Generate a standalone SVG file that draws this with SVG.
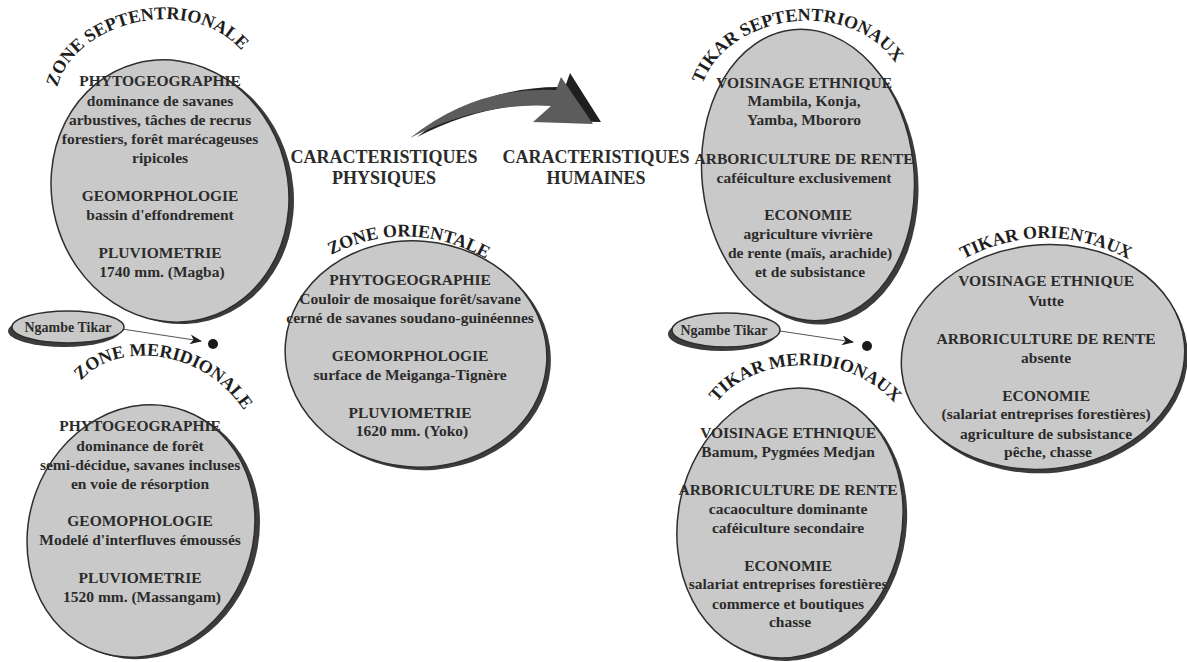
<svg xmlns="http://www.w3.org/2000/svg" width="1187" height="662" viewBox="0 0 1187 662">
<style>
.bg{fill:#c9c9c9;stroke:#2e2e2e;stroke-width:1.5}
.sh{fill:#3c3c3c}
.t{font-family:"Liberation Serif","Times New Roman",serif;font-weight:bold;font-size:15.5px;fill:#2b2b2b;text-anchor:middle}
.ti{font-family:"Liberation Serif","Times New Roman",serif;font-weight:bold;font-size:18px;fill:#1e1e1e;text-anchor:middle}
.cap{font-family:"Liberation Serif","Times New Roman",serif;font-weight:bold;font-size:18px;fill:#2b2b2b;text-anchor:middle}
.ng{font-family:"Liberation Serif","Times New Roman",serif;font-weight:bold;font-size:14px;fill:#2b2b2b;text-anchor:middle}
.ln{fill:none;stroke:#555;stroke-width:1}
</style>
<defs>
<marker id="ah" viewBox="0 0 12 10" refX="11" refY="5" markerWidth="12" markerHeight="10" markerUnits="userSpaceOnUse" orient="auto">
<path d="M0,0 L12,5 L0,10 L3.5,5 Z" fill="#1e1e1e"/>
</marker>
<path id="pA" d="M56,94 C66,22 195,-12 246,56"/>
<path id="pB" d="M80,382 C110,343 200,343 245,412"/>
<path id="pC" d="M325,258 Q408,213 492,262"/>
<path id="pD" d="M700,92 C720,12 855,-8 900,70"/>
<path id="pE" d="M958,262 Q1045,214 1134,262"/>
<path id="pF" d="M712,410 C740,358 850,343 900,410"/>
</defs>
<rect width="1187" height="662" fill="#ffffff"/>

<g id="connectors">
<path d="M417,137 Q482,85 565,87 L570,73 L601,122 L541,121 L559,104 Q487,101 417,137 Z" fill="#1f1f1f"/>
<path d="M410,138 Q475,86 556,90 L561,77 L593,124 L533,122 L551,106 Q480,102 410,138 Z" fill="#5c5c5c"/>
<line class="ln" x1="122" y1="329" x2="201" y2="341" marker-end="url(#ah)"/>
<circle cx="213" cy="344" r="5" fill="#1a1a1a"/>
<line class="ln" x1="780" y1="331" x2="853" y2="342" marker-end="url(#ah)"/>
<circle cx="867" cy="346" r="5" fill="#1a1a1a"/>
</g>

<g id="labels">
<text class="cap"><tspan x="384" y="163">CARACTERISTIQUES</tspan><tspan x="384" y="184">PHYSIQUES</tspan></text>
<text class="cap"><tspan x="596" y="163">CARACTERISTIQUES</tspan><tspan x="596" y="184">HUMAINES</tspan></text>
</g>

<g id="zone-septentrionale">
<ellipse class="sh" cx="175" cy="193" rx="118" ry="132" transform="rotate(-15 175 193)"/>
<ellipse class="bg" cx="170" cy="191" rx="118" ry="132" transform="rotate(-15 170 191)"/>
<text class="ti"><textPath href="#pA" startOffset="50%">ZONE SEPTENTRIONALE</textPath></text>
<text class="t">
<tspan x="162" y="86">PHYTOGEOGRAPHIE</tspan>
<tspan x="162" y="106">dominance de savanes</tspan>
<tspan x="162" y="125">arbustives, tâches de recrus</tspan>
<tspan x="162" y="144">forestiers, forêt marécageuses</tspan>
<tspan x="162" y="163">ripicoles</tspan>
<tspan x="162" y="201">GEOMORPHOLOGIE</tspan>
<tspan x="162" y="220">bassin d'effondrement</tspan>
<tspan x="162" y="258">PLUVIOMETRIE</tspan>
<tspan x="162" y="277">1740 mm. (Magba)</tspan>
</text>
</g>

<g id="zone-meridionale">
<ellipse class="sh" cx="146" cy="533" rx="112" ry="128" transform="rotate(20 146 533)"/>
<ellipse class="bg" cx="141" cy="531" rx="112" ry="128" transform="rotate(20 141 531)"/>
<text class="ti"><textPath href="#pB" startOffset="50%">ZONE MERIDIONALE</textPath></text>
<text class="t">
<tspan x="142" y="431">PHYTOGEOGRAPHIE</tspan>
<tspan x="142" y="451">dominance de forêt</tspan>
<tspan x="142" y="470">semi-décidue, savanes incluses</tspan>
<tspan x="142" y="489">en voie de résorption</tspan>
<tspan x="142" y="526">GEOMOPHOLOGIE</tspan>
<tspan x="142" y="545">Modelé d'interfluves émoussés</tspan>
<tspan x="142" y="583">PLUVIOMETRIE</tspan>
<tspan x="142" y="602">1520 mm. (Massangam)</tspan>
</text>
</g>

<g id="zone-orientale">
<ellipse class="sh" cx="420" cy="357" rx="131" ry="113" transform="rotate(5 420 357)"/>
<ellipse class="bg" cx="416" cy="354" rx="131" ry="113" transform="rotate(5 416 354)"/>
<text class="ti"><textPath href="#pC" startOffset="50%">ZONE ORIENTALE</textPath></text>
<text class="t">
<tspan x="412" y="285">PHYTOGEOGRAPHIE</tspan>
<tspan x="412" y="304">Couloir de mosaique forêt/savane</tspan>
<tspan x="412" y="323">cerné de savanes soudano-guinéennes</tspan>
<tspan x="412" y="361">GEOMORPHOLOGIE</tspan>
<tspan x="412" y="380">surface de Meiganga-Tignère</tspan>
<tspan x="412" y="418">PLUVIOMETRIE</tspan>
<tspan x="412" y="436">1620 mm. (Yoko)</tspan>
</text>
</g>

<g id="tikar-septentrionaux">
<ellipse class="sh" cx="812" cy="179" rx="106" ry="146" transform="rotate(-6 812 179)"/>
<ellipse class="bg" cx="808" cy="175" rx="106" ry="146" transform="rotate(-6 808 175)"/>
<text class="ti"><textPath href="#pD" startOffset="50%">TIKAR SEPTENTRIONAUX</textPath></text>
<text class="t">
<tspan x="806" y="88">VOISINAGE ETHNIQUE</tspan>
<tspan x="806" y="106">Mambila, Konja,</tspan>
<tspan x="806" y="125">Yamba, Mbororo</tspan>
<tspan x="806" y="164">ARBORICULTURE DE RENTE</tspan>
<tspan x="806" y="183">caféiculture exclusivement</tspan>
<tspan x="810" y="220">ECONOMIE</tspan>
<tspan x="810" y="239">agriculture vivrière</tspan>
<tspan x="812" y="258">de rente (maïs, arachide)</tspan>
<tspan x="810" y="277">et de subsistance</tspan>
</text>
</g>

<g id="tikar-orientaux">
<ellipse class="sh" cx="1046" cy="361" rx="142" ry="112" transform="rotate(-6 1046 361)"/>
<ellipse class="bg" cx="1043" cy="357" rx="142" ry="112" transform="rotate(-6 1043 357)"/>
<text class="ti"><textPath href="#pE" startOffset="50%">TIKAR ORIENTAUX</textPath></text>
<text class="t">
<tspan x="1048" y="286">VOISINAGE ETHNIQUE</tspan>
<tspan x="1048" y="306">Vutte</tspan>
<tspan x="1048" y="344">ARBORICULTURE DE RENTE</tspan>
<tspan x="1048" y="363">absente</tspan>
<tspan x="1048" y="401">ECONOMIE</tspan>
<tspan x="1048" y="419">(salariat entreprises forestières)</tspan>
<tspan x="1048" y="439">agriculture de subsistance</tspan>
<tspan x="1048" y="457">pêche, chasse</tspan>
</text>
</g>

<g id="tikar-meridionaux">
<ellipse class="sh" cx="794" cy="526" rx="112" ry="136" transform="rotate(12 794 526)"/>
<ellipse class="bg" cx="790" cy="523" rx="112" ry="136" transform="rotate(12 790 523)"/>
<text class="ti"><textPath href="#pF" startOffset="50%">TIKAR MERIDIONAUX</textPath></text>
<text class="t">
<tspan x="790" y="438">VOISINAGE ETHNIQUE</tspan>
<tspan x="790" y="457">Bamum, Pygmées Medjan</tspan>
<tspan x="790" y="495">ARBORICULTURE DE RENTE</tspan>
<tspan x="790" y="514">cacaoculture dominante</tspan>
<tspan x="790" y="533">caféiculture secondaire</tspan>
<tspan x="790" y="571">ECONOMIE</tspan>
<tspan x="790" y="589">salariat entreprises forestières</tspan>
<tspan x="790" y="609">commerce et boutiques</tspan>
<tspan x="790" y="627">chasse</tspan>
</text>
</g>

<g id="ngambe-tikar-1">
<ellipse class="sh" cx="64" cy="331" rx="56" ry="16"/>
<ellipse class="bg" cx="68" cy="327" rx="56" ry="16"/>
<text class="ng" x="68" y="332">Ngambe Tikar</text>
</g>

<g id="ngambe-tikar-2">
<ellipse class="sh" cx="722" cy="334" rx="54" ry="17"/>
<ellipse class="bg" cx="726" cy="330" rx="54" ry="17"/>
<text class="ng" x="724" y="335">Ngambe Tikar</text>
</g>
</svg>
